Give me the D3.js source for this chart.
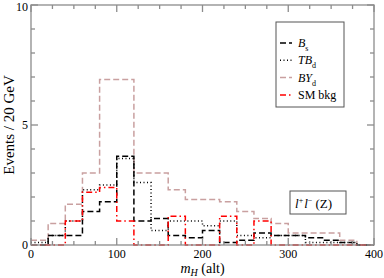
<!DOCTYPE html>
<html>
<head>
<meta charset="utf-8">
<script src="https://cdn.jsdelivr.net/npm/d3@7"></script>
<style>
  body { margin: 0; background: #fff; }
  text { font-family: "Liberation Serif", "DejaVu Serif", serif; }
</style>
</head>
<body>
<div id="chart"></div>
<script>
// bin lower edges, 20 GeV wide
var binEdges = [0, 20, 40, 60, 80, 100, 120, 140, 160, 180, 200, 220, 240, 260, 280, 300, 320, 340, 360, 380];
var binWidth = 20;

var bsValues  = [0, 0.4, 0.4, 1.4, 1.8, 3.7, 1.0, 1.1, 0.4, 0.3, 0.6, 0.1, 0.2, 0.5, 0.4, 0.4, 0.3, 0.2, 0.1, 0];
var tbdValues = [0.1, 0.4, 1.0, 2.3, 2.5, 3.6, 2.6, 0.6, 1.0, 1.0, 0.8, 1.0, 0.4, 0.3, 0.4, 0.4, 0.1, 0.1, 0.1, 0];
var bydValues = [0.2, 0.9, 1.7, 3.0, 6.9, 6.9, 3.0, 3.0, 2.3, 1.9, 1.9, 1.8, 1.4, 1.1, 0.9, 0.5, 0.5, 0.5, 0.2, 0];
var smValues  = [0, 0, 1.0, 2.2, 2.4, 1.0, 0, 0, 1.2, 0, 0, 1.2, 0, 1.0, 0, 0, 0, 0, 0, 0];

var xTicks = [0, 100, 200, 300, 400];
var yTicks = [0, 5, 10];

var width = 384;
var height = 278;
var margin = {top: 5, right: 10, bottom: 33, left: 31};
var frameColor = "#8c8c8c";

var series = [
  {name: "bsd", label: ["B", "s"], values: bsValues, color: "#000", dash: "6,3"},
  {name: "tbd", label: ["TB", "d"], values: tbdValues, color: "#000", dash: "1,2.5"},
  {name: "byd", label: ["BY", "d"], values: bydValues, color: "#c9a0a0", dash: "6,3"},
  {name: "sm", label: ["SM bkg", ""], values: smValues, color: "#ff0000", dash: "6,3,1.5,3"}
];

var svg = d3.select("#chart").append("svg")
  .attr("width", width)
  .attr("height", height);

var xScale = d3.scaleLinear().domain([0, 400]).range([margin.left, width - margin.right]);
var yScale = d3.scaleLinear().domain([0, 10]).range([height - margin.bottom, margin.top]);

var x0 = xScale(0), x1 = xScale(400), y0 = yScale(0), y1 = yScale(10);

/* histograms */
var line = d3.line()
  .x(d => xScale(d[0]))
  .y(d => yScale(d[1]))
  .curve(d3.curveStepAfter);

var order = [2, 1, 0, 3];
order.forEach(function(i) {
  var s = series[i];
  var pts = binEdges.map((e, j) => [e, s.values[j]]);
  pts.push([binEdges[binEdges.length - 1] + binWidth, s.values[s.values.length - 1]]);
  svg.append("path")
    .attr("d", line(pts))
    .attr("fill", "none")
    .attr("stroke", s.color)
    .attr("stroke-width", 1.5)
    .attr("stroke-dasharray", s.dash);
});

/* frame and ticks (inward, mirrored) */
var axes = svg.append("g").attr("stroke", frameColor).attr("stroke-width", 1.3);
axes.append("rect")
  .attr("x", x0).attr("y", y1)
  .attr("width", x1 - x0).attr("height", y0 - y1)
  .attr("fill", "none");

d3.range(0, 401, 25).forEach(function(v) {
  var major = v % 100 === 0;
  var len = major ? 7 : 4;
  axes.append("line").attr("x1", xScale(v)).attr("x2", xScale(v)).attr("y1", y0).attr("y2", y0 - len);
  axes.append("line").attr("x1", xScale(v)).attr("x2", xScale(v)).attr("y1", y1).attr("y2", y1 + len);
});
d3.range(0, 11, 1).forEach(function(v) {
  var major = v % 5 === 0;
  var len = major ? 7 : 4;
  axes.append("line").attr("y1", yScale(v)).attr("y2", yScale(v)).attr("x1", x0).attr("x2", x0 + len);
  axes.append("line").attr("y1", yScale(v)).attr("y2", yScale(v)).attr("x1", x1).attr("x2", x1 - len);
});

/* tick labels */
svg.selectAll(".xlab").data(xTicks).enter().append("text")
  .attr("x", d => xScale(d))
  .attr("y", y0 + 13)
  .attr("text-anchor", "middle")
  .attr("font-size", 12)
  .text(d => d);

svg.selectAll(".ylab").data(yTicks).enter().append("text")
  .attr("x", x0 - 3)
  .attr("y", d => Math.max(yScale(d) + 4, 11))
  .attr("text-anchor", "end")
  .attr("font-size", 12)
  .text(d => d);

/* axis titles */
var xt = svg.append("text")
  .attr("x", (x0 + x1) / 2)
  .attr("y", height - 5)
  .attr("text-anchor", "middle")
  .attr("font-size", 14);
xt.append("tspan").attr("font-style", "italic").text("m");
xt.append("tspan").attr("font-style", "italic").attr("font-size", 10).attr("dy", 3).text("H");
xt.append("tspan").attr("dy", -3).text(" (alt)");

svg.append("text")
  .attr("transform", `translate(14, ${(y0 + y1) / 2}) rotate(-90)`)
  .attr("text-anchor", "middle")
  .attr("font-size", 15)
  .text("Events / 20 GeV");

/* legend */
var legend = svg.append("g");
legend.append("rect")
  .attr("x", 276).attr("y", 22)
  .attr("width", 68).attr("height", 85)
  .attr("fill", "#fff")
  .attr("stroke", "#555")
  .attr("stroke-width", 1);

series.forEach(function(s, i) {
  var yy = 43 + i * 17.3;
  legend.append("line")
    .attr("x1", 280).attr("x2", 292)
    .attr("y1", yy).attr("y2", yy)
    .attr("stroke", s.color)
    .attr("stroke-width", 1.5)
    .attr("stroke-dasharray", s.dash);
  var t = legend.append("text")
    .attr("x", 298).attr("y", yy + 4)
    .attr("font-size", 12);
  if (s.label[1]) {
    t.append("tspan").attr("font-style", "italic").text(s.label[0]);
    t.append("tspan").attr("font-size", 8).attr("dy", 4).text(s.label[1]);
  } else {
    t.text(s.label[0]);
  }
});

/* channel box */
svg.append("rect")
  .attr("x", 290).attr("y", 191)
  .attr("width", 56).attr("height", 23)
  .attr("fill", "#fff")
  .attr("stroke", "#555")
  .attr("stroke-width", 1);
var ch = svg.append("text")
  .attr("x", 295).attr("y", 208)
  .attr("font-size", 13);
ch.append("tspan").attr("font-style", "italic").text("l");
ch.append("tspan").attr("font-size", 8).attr("dy", -5).text("+");
ch.append("tspan").attr("font-style", "italic").attr("dy", 5).attr("dx", 1).text("l");
ch.append("tspan").attr("font-size", 8).attr("dy", -5).text("\u2212");
ch.append("tspan").attr("dy", 5).text(" (Z)");
</script>
</body>
</html>
